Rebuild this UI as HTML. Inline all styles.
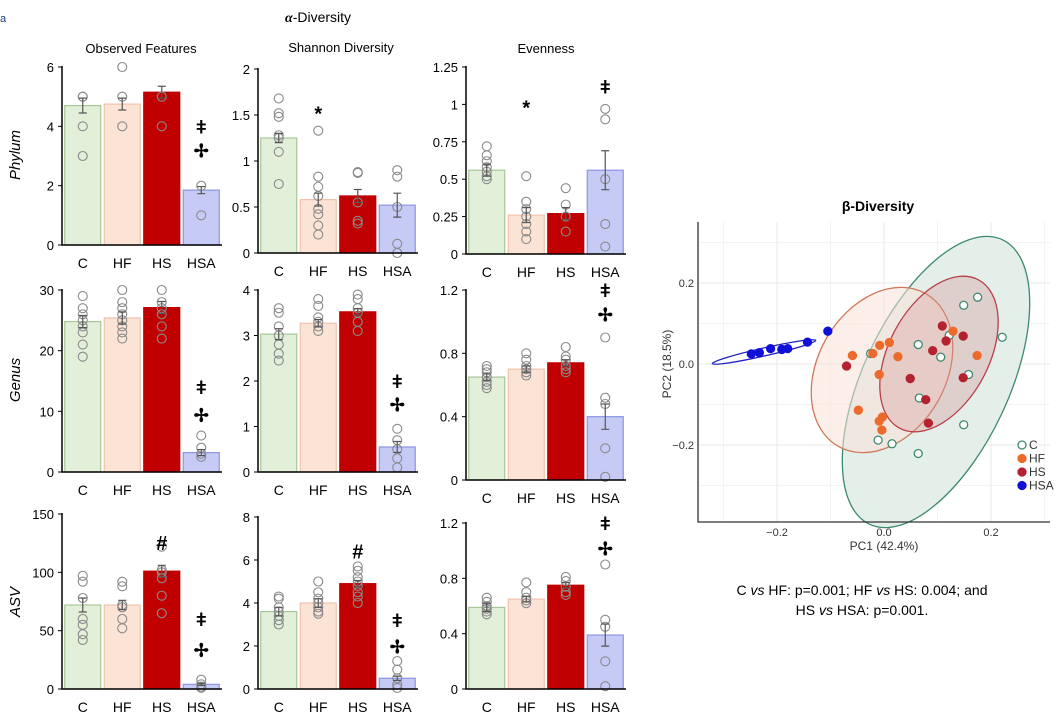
<!DOCTYPE html>
<html><head><meta charset="utf-8"><style>
body{margin:0;background:#fff;width:1059px;height:717px;overflow:hidden}
svg{font-family:"Liberation Sans",sans-serif}
</style></head><body>
<svg id="fig" width="1059" height="717" viewBox="0 0 1059 717">
<text x="0" y="22" font-size="11" fill="#1f3b8a">a</text>
<text x="318" y="22" font-size="14" text-anchor="middle"><tspan font-family="Liberation Serif" font-weight="bold" font-style="italic">α</tspan>-Diversity</text>
<text x="141" y="53" font-size="13" text-anchor="middle">Observed Features</text>
<text x="341" y="52" font-size="13" text-anchor="middle">Shannon Diversity</text>
<text x="546" y="53" font-size="13" text-anchor="middle">Evenness</text>
<text transform="translate(20,155) rotate(-90)" font-size="15" font-style="italic" text-anchor="middle">Phylum</text>
<text transform="translate(20,380) rotate(-90)" font-size="15" font-style="italic" text-anchor="middle">Genus</text>
<text transform="translate(20,602) rotate(-90)" font-size="15" font-style="italic" text-anchor="middle">ASV</text>
<text x="878" y="211" font-size="14" font-weight="bold" text-anchor="middle">β-Diversity</text>
<text x="862" y="595" font-size="14" text-anchor="middle">C <tspan font-style="italic">vs</tspan> HF: p=0.001; HF <tspan font-style="italic">vs</tspan> HS: 0.004; and</text>
<text x="862" y="615" font-size="14" text-anchor="middle">HS <tspan font-style="italic">vs</tspan> HSA: p=0.001.</text>
</svg>
<script>
const NS="http://www.w3.org/2000/svg";
const svg=document.getElementById('fig');
function mk(tag,attrs,parent){const e=document.createElementNS(NS,tag);for(const k in attrs)e.setAttribute(k,attrs[k]);(parent||svg).appendChild(e);return e;}

const groups=["C","HF","HS","HSA"];
const fills=["#e2efd9","#fbe3d6","#c00000","#c6cbf5"];
const strokes=["#a8c798","#f0c3ad","#c00000","#8c95e4"];

// panel data (values)
const p1Means=[4.7,4.75,5.15,1.85], p1Sem=[0.25,0.2,0.2,0.12], p1Pts=[[5,4,3,5],[6,5,4],[5,4],[2,1]], p1Ticks=[0,2,4,6];
const p2Means=[1.25,0.58,0.62,0.52], p2Sem=[0.05,0.07,0.07,0.13], p2Pts=[[1.68,1.52,1.48,1.28,1.25,1.1,0.75],[1.33,0.83,0.72,0.62,0.48,0.42,0.3,0.2],[0.88,0.87,0.55,0.35,0.32],[0.9,0.83,0.5,0.1,0.0]], p2Ticks=[0,0.5,1,1.5,2];
const p3Means=[0.56,0.26,0.27,0.56], p3Sem=[0.04,0.05,0.04,0.13], p3Pts=[[0.72,0.66,0.62,0.58,0.55,0.52,0.5],[0.52,0.35,0.3,0.25,0.2,0.15,0.1],[0.44,0.33,0.25,0.15],[0.97,0.9,0.5,0.2,0.05]], p3Ticks=[0,0.25,0.5,0.75,1,1.25];
const p4Means=[24.8,25.4,27.1,3.2], p4Sem=[1,1,1,0.5], p4Pts=[[29,27,26,25,24,23,21,19],[30,28,27,26,25,24,23,22],[30,28,27,26,24,22],[6,4,3,2.5]], p4Ticks=[0,10,20,30];
const p5Means=[3.03,3.27,3.52,0.55], p5Sem=[0.12,0.08,0.07,0.12], p5Pts=[[3.6,3.5,3.2,3.0,2.8,2.6,2.45],[3.8,3.65,3.4,3.3,3.2,3.1],[3.9,3.8,3.6,3.5,3.3,3.1],[0.95,0.7,0.5,0.3,0.1]], p5Ticks=[0,1,2,3,4];
const p6Means=[0.65,0.7,0.74,0.4], p6Sem=[0.02,0.02,0.02,0.08], p6Pts=[[0.72,0.7,0.68,0.65,0.62,0.6,0.58],[0.8,0.76,0.72,0.7,0.68,0.66],[0.84,0.78,0.76,0.72,0.7,0.68],[0.9,0.52,0.48,0.2,0.02]], p6Ticks=[0,0.4,0.8,1.2];
const p7Means=[72,72,101,4], p7Sem=[6,4,5,1], p7Pts=[[97,92,78,60,55,47,42],[92,88,72,70,60,52],[122,102,100,95,80,65],[8,4,2,1]], p7Ticks=[0,50,100,150];
const p8Means=[3.6,4.0,4.9,0.5], p8Sem=[0.2,0.2,0.15,0.1], p8Pts=[[4.3,4.2,3.8,3.6,3.4,3.2,3.0],[5.0,4.5,4.2,4.0,3.8,3.6,3.5],[5.7,5.5,5.2,5.0,4.8,4.5,4.3,4.0],[1.3,0.9,0.5,0.2,0.05]], p8Ticks=[0,2,4,6,8];
const p9Means=[0.59,0.65,0.75,0.39], p9Sem=[0.03,0.02,0.02,0.08], p9Pts=[[0.66,0.63,0.6,0.58,0.56,0.54],[0.77,0.7,0.66,0.64,0.62],[0.81,0.78,0.74,0.7,0.68],[0.9,0.5,0.45,0.2,0.02]], p9Ticks=[0,0.4,0.8,1.2];
// annotations: [groupIndex, value, symbol]
const p1Ann=[[3,4.0,"ǂ"],[3,3.2,"✢"]], p2Ann=[[1,1.55,"*"]], p3Ann=[[1,1.0,"*"],[3,1.12,"ǂ"]];
const p4Ann=[[3,14,"ǂ"],[3,9.5,"✢"]], p5Ann=[[3,2.0,"ǂ"],[3,1.5,"✢"]], p6Ann=[[3,1.2,"ǂ"],[3,1.05,"✢"]];
const p7Ann=[[2,125,"#"],[3,60,"ǂ"],[3,34,"✢"]], p8Ann=[[2,6.4,"#"],[3,3.2,"ǂ"],[3,2.0,"✢"]], p9Ann=[[3,1.2,"ǂ"],[3,1.02,"✢"]];

const panels=[
 {n:"phylum-observed",x0:62,yT:67,yB:245,m:p1Means,s:p1Sem,p:p1Pts,t:p1Ticks,a:p1Ann},
 {n:"phylum-shannon",x0:258,yT:69,yB:253,m:p2Means,s:p2Sem,p:p2Pts,t:p2Ticks,a:p2Ann},
 {n:"phylum-evenness",x0:466,yT:67,yB:254,m:p3Means,s:p3Sem,p:p3Pts,t:p3Ticks,a:p3Ann},
 {n:"genus-observed",x0:62,yT:290,yB:472,m:p4Means,s:p4Sem,p:p4Pts,t:p4Ticks,a:p4Ann},
 {n:"genus-shannon",x0:258,yT:290,yB:472,m:p5Means,s:p5Sem,p:p5Pts,t:p5Ticks,a:p5Ann},
 {n:"genus-evenness",x0:466,yT:290,yB:480,m:p6Means,s:p6Sem,p:p6Pts,t:p6Ticks,a:p6Ann},
 {n:"asv-observed",x0:62,yT:514,yB:689,m:p7Means,s:p7Sem,p:p7Pts,t:p7Ticks,a:p7Ann},
 {n:"asv-shannon",x0:258,yT:517,yB:689,m:p8Means,s:p8Sem,p:p8Pts,t:p8Ticks,a:p8Ann},
 {n:"asv-evenness",x0:466,yT:523,yB:689,m:p9Means,s:p9Sem,p:p9Pts,t:p9Ticks,a:p9Ann},
];
panels.forEach(P=>{
 const g=mk('g',{});
 
 
 const max=P.t[P.t.length-1];
 const y=v=>P.yB-(v/max)*(P.yB-P.yT);
 const band=39.5, bw=36;
 const xc=i=>P.x0+band*i+band/2+1;
 P.m.forEach((v,i)=>{
  const r=mk('rect',{x:xc(i)-bw/2,y:y(v),width:bw,height:P.yB-y(v),fill:fills[i],stroke:strokes[i],'stroke-width':1.2},g);
  
  
  const lab=mk('text',{x:xc(i),y:P.yB+23,'font-size':14,'text-anchor':'middle'},g);lab.textContent=groups[i];
  
  
 });
 P.p.forEach((arr,i)=>arr.forEach(v=>{
  const c=mk('circle',{cx:xc(i),cy:y(v),r:4.5,fill:'none',stroke:'#8a8a8a','stroke-width':1.1},g);
  
  
 }));
 P.m.forEach((v,i)=>{
  const e=mk('path',{d:`M${xc(i)} ${y(v+P.s[i])}V${y(v-P.s[i])}M${xc(i)-4} ${y(v+P.s[i])}h8M${xc(i)-4} ${y(v-P.s[i])}h8`,stroke:'#555','stroke-width':1.2,fill:'none'},g);
  
  
 });
 const ax=mk('path',{d:`M${P.x0} ${P.yT-1}V${P.yB}H${P.x0+160}`,stroke:'#000','stroke-width':1.5,fill:'none'},g);
 
 
 P.t.forEach(t=>{
  mk('line',{x1:P.x0-4,x2:P.x0,y1:y(t),y2:y(t),stroke:'#000'},g);
  const tl=mk('text',{x:P.x0-8,y:y(t)+5,'font-size':13,'text-anchor':'end'},g);tl.textContent=String(t);
  
  
 });
 P.a.forEach(a=>{
  const at=mk('text',{x:xc(a[0]),y:y(a[1])+(a[2]==="*"?10:7),'font-size':a[2]==="#"?20:(a[2]==="*"?20:18),'text-anchor':'middle','font-weight':'bold'},g);
  at.textContent=a[2];
  
  
 });
});

// PCoA
const hsaX=[-0.248,-0.233,-0.212,-0.191,-0.18,-0.143,-0.105], hsaY=[0.025,0.028,0.038,0.036,0.038,0.054,0.081];
const hfX=[-0.059,-0.021,-0.008,0.010,0.026,-0.009,-0.048,-0.003,-0.009,-0.004,0.129,0.174], hfY=[0.021,0.026,0.046,0.053,0.018,-0.026,-0.114,-0.131,-0.141,-0.163,0.081,0.021];
const hsX=[-0.07,0.049,0.078,0.083,0.091,0.109,0.116,0.148,0.148], hsY=[-0.005,-0.036,-0.088,-0.146,0.033,0.094,0.057,0.069,-0.034];
const cX=[-0.025,0.064,0.106,0.066,0.149,0.175,0.221,0.158,0.149,-0.011,0.015,0.064,0.122], cY=[0.026,0.048,0.017,-0.084,0.145,0.165,0.066,-0.026,-0.15,-0.188,-0.197,-0.221,0.071];
const pcTicks=[-0.2,0.0,0.2];
const sx=v=>884+v*535, sy=v=>364-v*405;
const pg=mk('g',{});


[-0.3,-0.1,0.1,0.3].forEach(t=>{mk('line',{x1:sx(t),x2:sx(t),y1:222,y2:522,stroke:'#f3f3f3'},pg);});
[-0.3,-0.1,0.1,0.3].forEach(t=>{mk('line',{x1:698,x2:1050,y1:sy(t),y2:sy(t),stroke:'#f3f3f3'},pg);});
pcTicks.forEach(t=>{
 mk('line',{x1:sx(t),x2:sx(t),y1:222,y2:522,stroke:'#e8e8e8'},pg);
 mk('line',{x1:698,x2:1050,y1:sy(t),y2:sy(t),stroke:'#e8e8e8'},pg);
 const lx=mk('text',{x:sx(t),y:536,'font-size':11,'text-anchor':'middle',fill:'#333'},pg);lx.textContent=(t===0?"0.0":t.toFixed(1)).replace('-','−');
 
 
 const ly=mk('text',{x:694,y:sy(t)+4,'font-size':11,'text-anchor':'end',fill:'#333'},pg);ly.textContent=(t===0?"0.0":t.toFixed(1)).replace('-','−');
 
 
});
const ells=[[936,382,157,73,-65,'#e4efea','#3e8a6e'],[882,370,88,64,-60,'rgba(250,225,215,0.55)','#d0785a'],[939,354,84,50,-62,'rgba(215,150,150,0.35)','#b8404a'],[764,352,53,4,-12.7,'none','#2020c0']];
ells.forEach((e,i)=>{
 const el=mk('ellipse',{cx:0,cy:0,rx:e[2],ry:e[3],transform:`translate(${e[0]},${e[1]}) rotate(${e[4]})`,fill:e[5],stroke:e[6],'stroke-width':1.3},pg);
 
 
});
function pts(X,Y,fill,stroke,name){X.forEach((v,i)=>{const c=mk('circle',{cx:sx(v),cy:sy(Y[i]),r:4,fill:fill,stroke:stroke,'stroke-width':1.3},pg);
 
 });}
pts(cX,cY,'#fff','#3e8a6e','point-C');
pts(hfX,hfY,'#ec6a2c','#ec6a2c','point-HF');
pts(hsX,hsY,'#b3222e','#b3222e','point-HS');
pts(hsaX,hsaY,'#1010d8','#1010d8','point-HSA');
const pax=mk('path',{d:'M698 222V522H1050',stroke:'#333','stroke-width':1.3,fill:'none'},pg);


const xt=mk('text',{x:884,y:550,'font-size':12,'text-anchor':'middle',fill:'#333'},pg);xt.textContent="PC1 (42.4%)";


const yt=mk('text',{transform:'translate(671,364) rotate(-90)','font-size':12,'text-anchor':'middle',fill:'#333'},pg);yt.textContent="PC2 (18.5%)";


const leg=[["C",'#fff','#3e8a6e'],["HF",'#ec6a2c','#ec6a2c'],["HS",'#b3222e','#b3222e'],["HSA",'#1010d8','#1010d8']];
leg.forEach((l,i)=>{
 const lg=mk('g',{},pg);
 
 
 mk('circle',{cx:1022,cy:445+i*13.5,r:4,fill:l[1],stroke:l[2],'stroke-width':1.3},lg);
 const t=mk('text',{x:1029,y:449+i*13.5,'font-size':12,fill:'#333'},lg);t.textContent=l[0];
});
</script>
</body></html>
